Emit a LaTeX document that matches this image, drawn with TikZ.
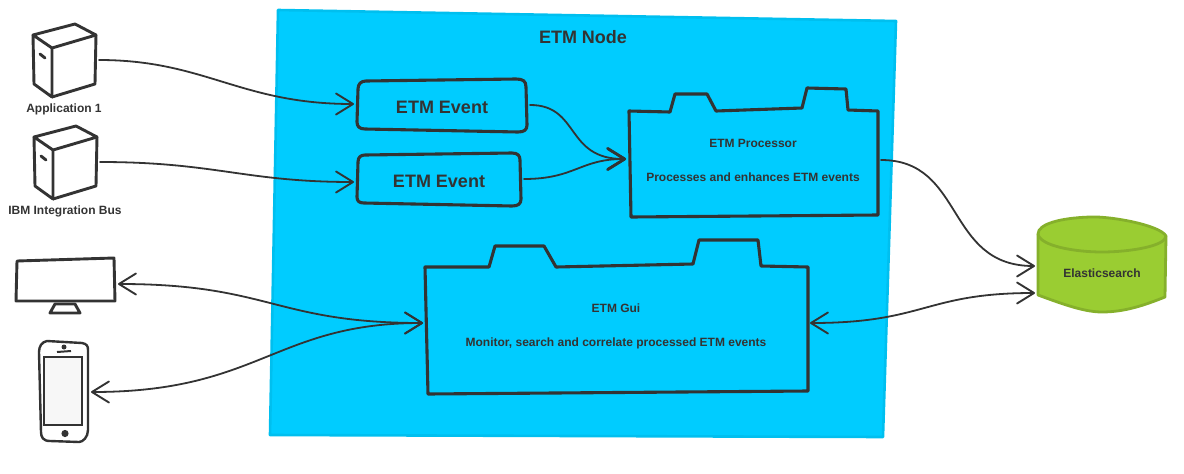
\documentclass[tikz,border=0pt]{standalone}
\usepackage{fontspec}
\setmainfont{Liberation Sans}
\usetikzlibrary{arrows.meta}
\definecolor{ink}{HTML}{333333}
\definecolor{nodefill}{HTML}{00CCFF}
\definecolor{nodeedge}{HTML}{00BFEF}
\definecolor{dbfill}{HTML}{9ACD32}
\definecolor{dbedge}{HTML}{85B02B}
\tikzset{
  x=1pt,y=-1pt,
  sketch/.style={draw=ink,line width=2.9pt,line join=round,line cap=round},
  thick sketch/.style={draw=ink,line width=3.1pt,line join=round,line cap=round},
  link/.style={draw=ink,line width=1.8pt,line cap=round},
  to tip/.style={-{Straight Barb[round,length=17pt,width=21pt,line width=1.9pt]}},
  heavy tip/.style={-{Straight Barb[round,length=17pt,width=21pt,line width=2.7pt]}},
  both tip/.style={{Straight Barb[round,length=17pt,width=21pt,line width=1.9pt]}-{Straight Barb[round,length=17pt,width=21pt,line width=1.9pt]}},
  smalllabel/.style={font=\bfseries\fontsize{12}{14}\selectfont,text=ink,inner sep=0pt,anchor=base},
  biglabel/.style={font=\bfseries\fontsize{18}{21}\selectfont,text=ink,inner sep=0pt},
  nodetitle/.style={font=\bfseries\fontsize{18}{21}\selectfont,text=ink,inner sep=0pt},
}
\begin{document}
\begin{tikzpicture}
\useasboundingbox (0,0) rectangle (1184,474);
% ETM Node container
\draw[draw=nodeedge,fill=nodefill,line width=2.6pt,line join=round]
  (278,10) -- (896,21) -- (883,437) -- (270,435) -- cycle;
\node[nodetitle] (nodetitle) at (583,37) {ETM Node};

% Servers
\draw[sketch] (33,35) -- (75,24) -- (96,35) -- (52,48) -- cycle;
\draw[sketch] (33,35) -- (34,84) -- (52,97) -- (52,48);
\draw[sketch] (52,97) -- (95,84) -- (96,35);
\draw[sketch] (40,54) -- (45,58);
\node[smalllabel] (app) at (64,112) {Application 1};
\draw[sketch] (34,137) -- (76,126) -- (97,137) -- (53,150) -- cycle;
\draw[sketch] (34,137) -- (35,186) -- (53,199) -- (53,150);
\draw[sketch] (53,199) -- (96,186) -- (97,137);
\draw[sketch] (41,156) -- (46,160);
\node[smalllabel] (ibm) at (65,214) {IBM Integration Bus};

% Monitor
\draw[sketch] (17,261) -- (114,258) -- (115,301) -- (16,301) -- cycle;
\draw[sketch] (55,304) -- (50,313) -- (80,313) -- (75,304) -- cycle;

% Phone
\draw[sketch,line width=2.4pt] (47,341) -- (82,343) .. controls (87,344) and (88,346) .. (88,350)
  -- (88,430) .. controls (88,437) and (83,442) .. (79,442)
  -- (50,441) .. controls (43,441) and (41,437) .. (41,432)
  -- (39,352) .. controls (39,346) and (42,342) .. (47,341) -- cycle;
\draw[draw=ink,fill=black!3,line width=2.8pt] (44,357) rectangle (82,425);
\fill[ink] (64,347) circle (2.5pt);
\draw[ink,line width=2pt] (57,352) -- (71,351);
\fill[ink] (65,433.5) circle (3.6pt);

% ETM Event boxes
\draw[thick sketch,fill=nodefill] (366,81) -- (516,79) .. controls (523,79) and (526,81) .. (526,87)
  -- (527,125) .. controls (527,130) and (524,132) .. (518,132)
  -- (365,129) .. controls (359,129) and (357,126) .. (357,122)
  -- (358,89) .. controls (358,84) and (361,81) .. (366,81) -- cycle;
\node[biglabel] (ev1) at (442,107) {ETM Event};
\draw[thick sketch,fill=nodefill] (365,155) -- (512,153) .. controls (518,153) and (520,156) .. (520,160)
  -- (521,199) .. controls (521,204) and (518,206) .. (512,206)
  -- (364,203) .. controls (359,203) and (357,201) .. (357,197)
  -- (358,162) .. controls (358,157) and (361,155) .. (365,155) -- cycle;
\node[biglabel] (ev2) at (439,181) {ETM Event};

% ETM Processor
\draw[thick sketch,fill=nodefill] (629,111) -- (670,112) -- (675,94) -- (707,94) -- (716,111)
  -- (802,108) -- (807,88) -- (846,89) -- (848,110) -- (878,111) -- (878,215) -- (631,217) -- cycle;
\node[smalllabel] (proc1) at (753,147) {ETM Processor};
\node[smalllabel] (proc2) at (753,181) {Processes and enhances ETM events};

% ETM Gui
\draw[thick sketch,fill=nodefill] (425,267) -- (489,267) -- (495,246) -- (544,246) -- (556,267)
  -- (693,264) -- (699,240) -- (758,240) -- (761,266) -- (808,267) -- (808,391) -- (428,394) -- cycle;
\node[smalllabel] (gui1) at (616,312) {ETM Gui};
\node[smalllabel] (gui2) at (616,346) {Monitor, search and correlate processed ETM events};

% Elasticsearch
\draw[draw=dbedge,fill=dbfill,line width=2.8pt,line join=round]
  (1038,234) -- (1038,295) .. controls (1065,305) and (1085,312) .. (1102,312)
  .. controls (1125,312) and (1145,305) .. (1165,297) -- (1166,236)
  .. controls (1160,225) and (1110,216) .. (1090,217) .. controls (1060,218) and (1038,224) .. (1038,234) -- cycle;
\draw[draw=dbedge,line width=2.8pt] (1038,234) .. controls (1040,246) and (1075,252) .. (1102,252)
  .. controls (1130,252) and (1166,246) .. (1166,236);
\node[smalllabel] (es) at (1102,277) {Elasticsearch};

% Connector anchors
\coordinate (app out) at (99,60);
\coordinate (ibm out) at (100,162);
\coordinate (ev1 in) at (354,104);
\coordinate (ev2 in) at (354,182);
\coordinate (ev1 out) at (530,105);
\coordinate (ev2 out) at (524,179);
\coordinate (proc in) at (626,159);
\coordinate (proc out) at (881,160);
\coordinate (es in a) at (1035,266);
\coordinate (es in b) at (1035,293);
\coordinate (gui left) at (423,323);
\coordinate (gui right) at (810,323);
\coordinate (mon port) at (118,284);
\coordinate (phone port) at (91,392);

% Connectors
\draw[link,to tip] (app out) .. controls (205,60) and (240,104) .. (ev1 in);
\draw[link,to tip] (ibm out) .. controls (215,162) and (245,182) .. (ev2 in);
\draw[link,heavy tip] (ev1 out) .. controls (580,105) and (565,159) .. (proc in);
\draw[link,heavy tip] (ev2 out) .. controls (575,179) and (580,159) .. (proc in);
\draw[link,to tip] (proc out) .. controls (965,160) and (945,266) .. (es in a);
\draw[link,both tip] (gui right) .. controls (925,323) and (925,293) .. (es in b);
\draw[link,both tip] (mon port) .. controls (270,284) and (275,323) .. (gui left);
\draw[link,both tip] (phone port) .. controls (260,392) and (275,323) .. (gui left);
\end{tikzpicture}
\end{document}
